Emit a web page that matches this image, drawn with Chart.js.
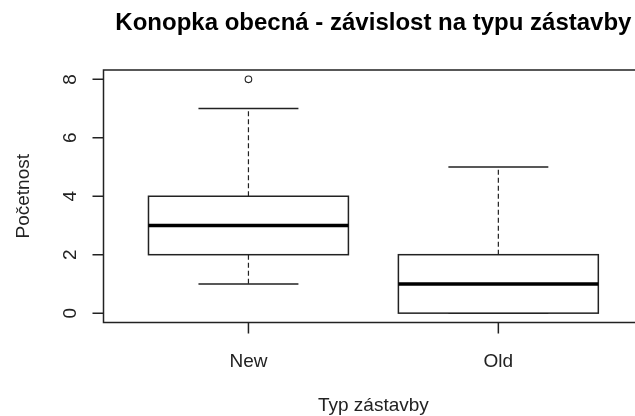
<!DOCTYPE html>
<html>
<head>
<meta charset="utf-8">
<script src="https://cdn.jsdelivr.net/npm/chart.js@4"></script>
<style>
  html, body { margin: 0; padding: 0; background: #fff; overflow: hidden; }
  #wrap { width: 660px; height: 416px; }
</style>
</head>
<body>
<div id="wrap"><canvas id="myCanvas" width="660" height="416"></canvas></div>
<script>
// data
const categories = ['New', 'Old'];
const whiskerLow = [1, 0];
const q1 = [2, 0];
const median = [3, 1];
const q3 = [4, 2];
const whiskerHigh = [7, 5];
const outliers = [[8], []];
const yTicks = [0, 2, 4, 6, 8];

const titleText = 'Konopka obecná - závislost na typu zástavby';
const xTitle = 'Typ zástavby';
const yTitle = 'Početnost';

const FONT = '"Liberation Sans", Arial, sans-serif';
const INK = '#222';

// outliers as scatter points
const outlierPoints = [];
outliers.forEach((arr, i) => arr.forEach(v => outlierPoints.push({ x: i + 1, y: v })));

// R style box plot drawn through the chart scales
const boxPlugin = {
  id: 'rBoxplot',
  afterDatasetsDraw(chart) {
    const ctx = chart.ctx;
    const xs = chart.scales.x;
    const ys = chart.scales.y;
    const area = chart.chartArea;
    ctx.save();
    ctx.strokeStyle = INK;

    categories.forEach((cat, i) => {
      const cx = xs.getPixelForValue(i + 1);
      const half = xs.getPixelForValue(i + 1.4) - cx;
      const capHalf = half / 2;

      // whiskers (dashed)
      ctx.lineWidth = 1.2;
      ctx.setLineDash([5, 3]);
      ctx.beginPath();
      ctx.moveTo(cx, ys.getPixelForValue(q3[i]));
      ctx.lineTo(cx, ys.getPixelForValue(whiskerHigh[i]));
      ctx.moveTo(cx, ys.getPixelForValue(q1[i]));
      ctx.lineTo(cx, ys.getPixelForValue(whiskerLow[i]));
      ctx.stroke();
      ctx.setLineDash([]);

      // staples
      ctx.lineWidth = 1.5;
      ctx.beginPath();
      [whiskerHigh[i], whiskerLow[i]].forEach(v => {
        const py = ys.getPixelForValue(v);
        ctx.moveTo(cx - capHalf, py);
        ctx.lineTo(cx + capHalf, py);
      });
      ctx.stroke();

      // box
      const top = ys.getPixelForValue(q3[i]);
      const bot = ys.getPixelForValue(q1[i]);
      ctx.fillStyle = '#fff';
      ctx.fillRect(cx - half, top, half * 2, bot - top);
      ctx.strokeRect(cx - half, top, half * 2, bot - top);

      // median
      ctx.lineWidth = 3.5;
      ctx.strokeStyle = '#000';
      ctx.beginPath();
      const my = ys.getPixelForValue(median[i]);
      ctx.moveTo(cx - half, my);
      ctx.lineTo(cx + half, my);
      ctx.stroke();
      ctx.strokeStyle = INK;
    });

    // frame
    ctx.lineWidth = 1.5;
    ctx.strokeRect(area.left, area.top, area.right - area.left, area.bottom - area.top);

    // y axis ticks + rotated labels
    ctx.fillStyle = INK;
    ctx.font = '19px ' + FONT;
    ctx.beginPath();
    yTicks.forEach(v => {
      const py = ys.getPixelForValue(v);
      ctx.moveTo(area.left - 11, py);
      ctx.lineTo(area.left, py);
    });
    ctx.stroke();
    ctx.textAlign = 'center';
    ctx.textBaseline = 'alphabetic';
    yTicks.forEach(v => {
      const py = ys.getPixelForValue(v);
      ctx.save();
      ctx.translate(area.left - 27.5, py);
      ctx.rotate(-Math.PI / 2);
      ctx.fillText(String(v), 0, 0);
      ctx.restore();
    });

    // x axis ticks + labels
    ctx.beginPath();
    categories.forEach((c, i) => {
      const px = xs.getPixelForValue(i + 1);
      ctx.moveTo(px, area.bottom);
      ctx.lineTo(px, area.bottom + 11);
    });
    ctx.stroke();
    categories.forEach((c, i) => {
      ctx.fillText(c, xs.getPixelForValue(i + 1), area.bottom + 44.5);
    });

    // axis titles
    const midX = (area.left + area.right) / 2;
    const midY = (area.top + area.bottom) / 2;
    ctx.fillText(xTitle, midX, area.bottom + 88.5);
    ctx.save();
    ctx.translate(28.5, midY);
    ctx.rotate(-Math.PI / 2);
    ctx.fillText(yTitle, 0, 0);
    ctx.restore();

    // main title
    ctx.font = 'bold 24px ' + FONT;
    ctx.fillStyle = '#000';
    ctx.fillText(titleText, midX, 30);
    ctx.restore();
  }
};

new Chart(document.getElementById('myCanvas'), {
  type: 'scatter',
  data: {
    datasets: [{
      data: outlierPoints,
      pointStyle: 'circle',
      pointRadius: 3.3,
      pointBorderWidth: 1.1,
      borderColor: INK,
      backgroundColor: '#fff'
    }]
  },
  options: {
    responsive: false,
    animation: false,
    layout: { padding: { left: 103.5, right: 16.7, top: 70, bottom: 93.5 } },
    scales: {
      x: { type: 'linear', min: 0.42, max: 2.58, display: false },
      y: { type: 'linear', min: -0.32, max: 8.32, display: false }
    },
    plugins: {
      legend: { display: false },
      tooltip: { enabled: false },
      title: { display: false }
    }
  },
  plugins: [boxPlugin]
});
</script>
</body>
</html>
